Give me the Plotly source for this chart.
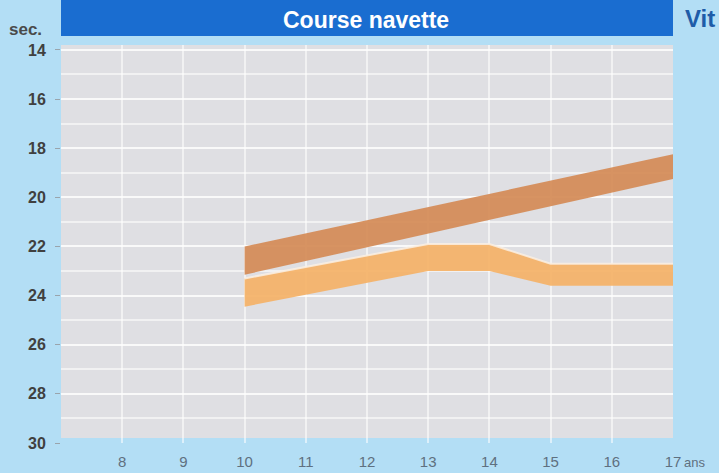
import plotly.graph_objects as go

# ---- data ----
ages_dark = [10, 17]
dark_fast = [22.0, 18.25]
dark_slow = [23.15, 19.25]

ages_light = [10, 13, 14, 15, 17]
light_fast = [23.3, 21.9, 21.9, 22.7, 22.7]
light_slow = [24.45, 23.0, 23.0, 23.6, 23.6]

x_ticks = [8, 9, 10, 11, 12, 13, 14, 15, 16, 17]
y_ticks = [14, 16, 18, 20, 22, 24, 26, 28, 30]

title = "Course navette"
y_unit = "sec."
x_unit = "ans"
side_text = "Vit"

BG = "#b3def5"
PLOT = "#dfdfe3"
HEADER = "#1a6dd0"
DARK = "rgba(212,140,88,0.94)"
LIGHT = "rgba(244,178,105,0.94)"
EDGE = "rgba(250,240,228,0.85)"
GRID = "rgba(255,255,255,0.55)"
FONT = "Liberation Sans, Arial, sans-serif"

fig = go.Figure()
fig.add_trace(go.Scatter(x=ages_light, y=light_fast, mode="lines",
                         line=dict(width=0, color=LIGHT), showlegend=False, hoverinfo="skip"))
fig.add_trace(go.Scatter(x=ages_light, y=light_slow, mode="lines", fill="tonexty",
                         fillcolor=LIGHT, line=dict(width=0, color=LIGHT), showlegend=False))
fig.add_trace(go.Scatter(x=ages_light, y=light_fast, mode="lines",
                         line=dict(width=2, color=EDGE), showlegend=False, hoverinfo="skip"))
fig.add_trace(go.Scatter(x=ages_dark, y=dark_fast, mode="lines",
                         line=dict(width=0, color=DARK), showlegend=False, hoverinfo="skip"))
fig.add_trace(go.Scatter(x=ages_dark, y=dark_slow, mode="lines", fill="tonexty",
                         fillcolor=DARK, line=dict(width=0, color=DARK), showlegend=False))

# grey plotting panel (stops just above the 30 s tick)
fig.add_shape(type="rect", xref="x", yref="y", x0=7, x1=17, y0=13.8, y1=29.8,
              fillcolor=PLOT, line=dict(width=0), layer="below")
# blue header bar
fig.add_shape(type="rect", xref="paper", yref="paper", x0=0, x1=1,
              y0=1 + 9 / 398, y1=1 + 46 / 398, fillcolor=HEADER, line=dict(width=0))

fig.add_annotation(text=title, xref="paper", yref="paper", x=0.498, y=1 + 25 / 398,
                   showarrow=False, xanchor="center", yanchor="middle",
                   font=dict(family=FONT, size=23, color="white", weight="bold"))
fig.add_annotation(text=y_unit, xref="paper", yref="paper", x=(7 - 61) / 612, y=1 + 16 / 398,
                   showarrow=False, xanchor="left", yanchor="middle",
                   font=dict(family=FONT, size=17, color="#4a4a4a", weight="bold"))
fig.add_annotation(text=side_text, xref="paper", yref="paper", x=(683 - 61) / 612, y=1 + 27 / 398,
                   showarrow=False, xanchor="left", yanchor="middle",
                   font=dict(family=FONT, size=24, color="#1e5ca8", weight="bold"))
fig.add_annotation(text=x_unit, xref="paper", yref="paper", x=(682 - 61) / 612, y=-(462 - 443) / 398,
                   showarrow=False, xanchor="left", yanchor="middle",
                   font=dict(family=FONT, size=13, color="#5f7080"))

fig.update_xaxes(range=[7, 17], tickvals=x_ticks, ticks="", showline=False, zeroline=False,
                 showgrid=True, gridcolor=GRID, gridwidth=1.5, automargin=False,
                 ticklabelstandoff=8,
                 tickfont=dict(family=FONT, size=15, color="#5f7080"))
fig.update_yaxes(range=[30, 13.8], tickvals=y_ticks, ticks="outside", ticklen=5,
                 tickcolor="#9aa4ac", tickwidth=1, showline=False, zeroline=False,
                 showgrid=True, gridcolor=GRID, gridwidth=1.5, automargin=False,
                 minor=dict(dtick=1, showgrid=True, gridcolor=GRID, gridwidth=1.5),
                 ticklabelstandoff=6,
                 tickfont=dict(family=FONT, size=16, color="#404040", weight="bold"))

fig.update_layout(width=719, height=473, margin=dict(l=61, r=46, t=45, b=30, autoexpand=False),
                  paper_bgcolor=BG, plot_bgcolor=BG, showlegend=False)

fig.write_html("out.html", config={"displayModeBar": False},
               post_script="document.body.style.margin='0';document.body.style.overflow='hidden';")
